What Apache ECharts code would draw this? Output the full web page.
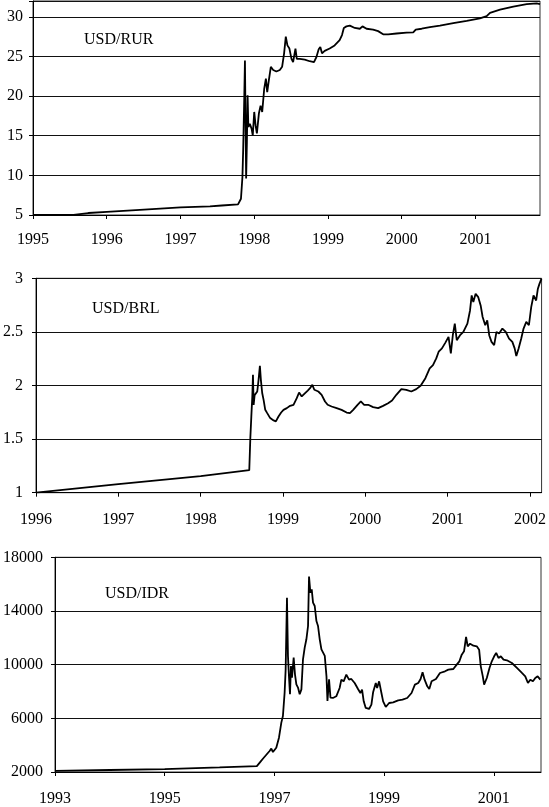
<!DOCTYPE html>
<html>
<head>
<meta charset="utf-8">
<script src="https://cdn.jsdelivr.net/npm/echarts@6/dist/echarts.min.js"></script>
<style>
  html, body { margin: 0; padding: 0; background: #fff; }
  #chart { width: 549px; height: 807px; }
</style>
</head>
<body>
<div id="chart"></div>
<script>
// USD/RUR (decimal years, rate)
let rurYears = [
    1995.00, 1995.55, 1995.75, 1996.00, 1996.45, 1997.00, 1997.40, 1997.56, 1997.78, 1997.82,
    1997.84, 1997.85, 1997.865, 1997.874, 1997.883, 1997.89, 1997.90, 1997.91, 1997.92, 1997.94,
    1997.964, 1997.98, 1998.00, 1998.018, 1998.036, 1998.063, 1998.086, 1998.108, 1998.135, 1998.158,
    1998.176, 1998.198, 1998.225, 1998.257, 1998.30, 1998.347, 1998.378, 1998.405, 1998.428, 1998.45,
    1998.477, 1998.505, 1998.527, 1998.559, 1998.577, 1998.617, 1998.685, 1998.752, 1998.81, 1998.842,
    1998.874, 1998.896, 1998.919, 1998.955, 1999.023, 1999.09, 1999.158, 1999.19, 1999.215, 1999.25,
    1999.296, 1999.364, 1999.432, 1999.468, 1999.523, 1999.612, 1999.68, 1999.748, 1999.816, 1999.93,
    2000.066, 2000.156, 2000.19, 2000.27, 2000.382, 2000.518, 2000.699, 2000.881, 2001.06, 2001.152,
    2001.197, 2001.333, 2001.513, 2001.695, 2001.83, 2001.875
];
let rurRates = [
    5.00, 5.02, 5.25, 5.40, 5.65, 5.95, 6.10, 6.20, 6.34, 7.05,
    9.8, 13.2, 19.9, 24.5, 16.1, 9.6, 14.0, 20.1, 16.1, 16.5,
    15.9, 15.05, 18.0, 16.3, 15.3, 17.8, 18.8, 18.0, 20.9, 22.2,
    20.5, 22.0, 23.7, 23.3, 23.1, 23.3, 23.7, 25.4, 27.5, 26.4,
    26.0, 24.7, 24.3, 26.0, 24.7, 24.7, 24.6, 24.4, 24.3, 24.9,
    25.9, 26.2, 25.4, 25.7, 26.0, 26.4, 27.05, 27.7, 28.6, 28.8,
    28.9, 28.6, 28.5, 28.8, 28.5, 28.4, 28.2, 27.8, 27.8, 27.9,
    28.0, 28.05, 28.4, 28.5, 28.7, 28.9, 29.2, 29.5, 29.8, 30.1,
    30.5, 30.9, 31.3, 31.6, 31.7, 31.6
];

// USD/BRL
let brlYears = [
    1996.00, 1997.00, 1998.00, 1998.59, 1998.603, 1998.615, 1998.627, 1998.635, 1998.643, 1998.655,
    1998.67, 1998.687, 1998.703, 1998.719, 1998.731, 1998.747, 1998.764, 1998.784, 1998.808, 1998.844,
    1998.885, 1998.913, 1998.945, 1998.977, 1999.006, 1999.046, 1999.086, 1999.127, 1999.167, 1999.195,
    1999.227, 1999.268, 1999.30, 1999.328, 1999.356, 1999.38, 1999.429, 1999.469, 1999.51, 1999.542,
    1999.59, 1999.651, 1999.711, 1999.772, 1999.812, 1999.852, 1999.905, 1999.945, 1999.985, 2000.034,
    2000.094, 2000.155, 2000.215, 2000.276, 2000.324, 2000.376, 2000.437, 2000.497, 2000.558, 2000.618,
    2000.671, 2000.729, 2000.781, 2000.821, 2000.861, 2000.89, 2000.93, 2000.97, 2001.01, 2001.038,
    2001.062, 2001.086, 2001.11, 2001.15, 2001.19, 2001.239, 2001.271, 2001.291, 2001.311, 2001.339,
    2001.371, 2001.40, 2001.424, 2001.456, 2001.48, 2001.504, 2001.532, 2001.564, 2001.592, 2001.624,
    2001.664, 2001.705, 2001.745, 2001.785, 2001.813, 2001.833, 2001.861, 2001.893, 2001.921, 2001.954,
    2001.986, 2002.014, 2002.042, 2002.074, 2002.094, 2002.114, 2002.138
];
let brlRates = [
    1.00, 1.08, 1.155, 1.21, 1.51, 1.71, 1.90, 2.10, 1.82, 1.91,
    1.90, 1.944, 2.053, 2.183, 2.053, 1.93, 1.866, 1.773, 1.742, 1.696,
    1.674, 1.665, 1.711, 1.748, 1.773, 1.789, 1.81, 1.82, 1.882, 1.935,
    1.898, 1.929, 1.953, 1.975, 2.006, 1.96, 1.944, 1.913, 1.851, 1.82,
    1.804, 1.789, 1.773, 1.748, 1.742, 1.773, 1.82, 1.851, 1.82, 1.82,
    1.798, 1.789, 1.81, 1.835, 1.86, 1.913, 1.966, 1.96, 1.944, 1.966,
    1.997, 2.068, 2.16, 2.19, 2.253, 2.315, 2.346, 2.398, 2.454, 2.30,
    2.469, 2.577, 2.423, 2.469, 2.50, 2.577, 2.70, 2.84, 2.778, 2.855,
    2.824, 2.747, 2.639, 2.562, 2.608, 2.469, 2.407, 2.377, 2.50, 2.485,
    2.531, 2.50, 2.438, 2.407, 2.346, 2.275, 2.346, 2.438, 2.531, 2.593,
    2.562, 2.731, 2.84, 2.793, 2.90, 2.948, 2.994
];

// USD/IDR
let idrYears = [
    1993.00, 1994.00, 1995.00, 1996.00, 1996.68, 1996.74, 1996.79, 1996.821, 1996.912, 1996.943,
    1996.973, 1997.004, 1997.034, 1997.083, 1997.126, 1997.155, 1997.186, 1997.205, 1997.229, 1997.247,
    1997.265, 1997.284, 1997.302, 1997.320, 1997.351, 1997.375, 1997.400, 1997.430, 1997.461, 1997.492,
    1997.521, 1997.552, 1997.583, 1997.613, 1997.631, 1997.656, 1997.680, 1997.704, 1997.735, 1997.766,
    1997.795, 1997.826, 1997.857, 1997.887, 1997.918, 1997.949, 1997.967, 1997.996, 1998.022, 1998.067,
    1998.128, 1998.189, 1998.22, 1998.262, 1998.311, 1998.36, 1998.402, 1998.463, 1998.524, 1998.567,
    1998.598, 1998.628, 1998.665, 1998.726, 1998.768, 1998.799, 1998.848, 1998.872, 1998.909, 1998.951,
    1998.982, 1999.03, 1999.091, 1999.165, 1999.256, 1999.335, 1999.421, 1999.5, 1999.561, 1999.622,
    1999.665, 1999.701, 1999.738, 1999.787, 1999.823, 1999.866, 1999.945, 2000.018, 2000.11, 2000.171,
    2000.262, 2000.323, 2000.372, 2000.415, 2000.457, 2000.494, 2000.524, 2000.567, 2000.628, 2000.689,
    2000.732, 2000.762, 2000.799, 2000.823, 2000.872, 2000.921, 2000.963, 2001.006, 2001.043, 2001.085,
    2001.128, 2001.177, 2001.238, 2001.329, 2001.421, 2001.512, 2001.573, 2001.622, 2001.665, 2001.713,
    2001.756, 2001.799, 2001.848
];
let idrRates = [
    2080, 2150, 2220, 2340, 2440, 2740, 2990, 2945, 3566, 3740,
    3490, 3566, 3810, 4560, 5680, 6170, 7910, 9650, 14990, 10650,
    9150, 7790, 9900, 9030, 10520, 9280, 8530, 8290, 7790, 8160,
    10400, 11270, 11890, 12880, 16560, 15360, 15610, 14620, 14370, 13250,
    12880, 11890, 11140, 11270, 10650, 9150, 7290, 8910, 7540, 7516,
    7640, 8261, 8882, 8758, 9255, 8882, 8932, 8634, 8187, 7889,
    8137, 7268, 6771, 6696, 7019, 7938, 8634, 8261, 8758, 7889,
    7268, 6845, 7143, 7193, 7342, 7392, 7516, 7889, 8510, 8634,
    8932, 9429, 8882, 8385, 8187, 8758, 8932, 9379, 9503, 9627,
    9677, 10000, 10248, 10745, 10994, 12062, 11366, 11565, 11416, 11366,
    11118, 9876, 9131, 8510, 9006, 9752, 10248, 10621, 10869, 10497,
    10621, 10373, 10323, 10124, 9752, 9379, 9131, 8634, 8882, 8758,
    9006, 9131, 8882
];

let serif = 'Liberation Serif';
let ink = '#000';

let zip = function(xs, ys) {
    return xs.map(function(x, i) { return [x, ys[i]]; });
};

let makeX = function(idx, min, max, interval, margin) {
    return {
        type: 'value', gridIndex: idx, min: min, max: max, interval: interval,
        axisLine: { show: true, lineStyle: { color: ink, width: 1 } },
        axisTick: { show: true, length: 4, lineStyle: { color: ink } },
        splitLine: { show: false },
        axisLabel: {
            margin: margin, color: ink, fontFamily: serif, fontSize: 16,
            showMaxLabel: false,
            formatter: function(v) {
                return (Math.abs(v - Math.round(v)) < 1e-6) ? String(Math.round(v)) : '';
            }
        }
    };
};

let makeY = function(idx, min, max, interval, margin, step) {
    return {
        type: 'value', gridIndex: idx, min: min, max: max, interval: interval,
        axisLine: { show: true, lineStyle: { color: ink, width: 1 } },
        axisTick: { show: true, length: 4, lineStyle: { color: ink } },
        splitLine: { show: true, lineStyle: { color: '#111', width: 1 } },
        axisLabel: {
            margin: margin, color: ink, fontFamily: serif, fontSize: 16,
            formatter: function(v) {
                let k = (v - min) / step;
                return (Math.abs(k - Math.round(k)) < 1e-6) ? String(v) : '';
            }
        }
    };
};

let makeLine = function(idx, data) {
    return {
        type: 'line', xAxisIndex: idx, yAxisIndex: idx,
        data: data, showSymbol: false, symbol: 'none',
        lineStyle: { color: '#000', width: 1.8 },
        animation: false
    };
};

let titleStyle = { color: ink, fontFamily: serif, fontSize: 16, fontWeight: 'normal' };

let myChart = echarts.init(document.getElementById('chart'), null, { renderer: 'canvas' });

myChart.setOption({
    backgroundColor: '#fff',
    animation: false,
    title: [
        { text: 'USD/RUR', left: 84, top: 32, padding: 0, textStyle: titleStyle },
        { text: 'USD/BRL', left: 92, top: 301, padding: 0, textStyle: titleStyle },
        { text: 'USD/IDR', left: 105, top: 586, padding: 0, textStyle: titleStyle }
    ],
    grid: [
        { left: 33, top: 1, width: 507, height: 214, show: true, borderColor: '#333', borderWidth: 1 },
        { left: 33.5, top: 278.3, width: 508.5, height: 214.4, show: true, borderColor: '#333', borderWidth: 1 },
        { left: 54.5, top: 557.3, width: 486.5, height: 215.5, show: true, borderColor: '#333', borderWidth: 1 }
    ],
    xAxis: [
        makeX(0, 1995, 2001.875, 1, 17),
        makeX(1, 1996, 2002.14, 1, 19),
        makeX(2, 1993, 2001.86, 2, 19)
    ],
    yAxis: [
        makeY(0, 5, 32, 5, 10, 5),
        makeY(1, 1, 3, 0.5, 13, 0.5),
        makeY(2, 2000, 18000, 4000, 12, 4000)
    ],
    series: [
        makeLine(0, zip(rurYears, rurRates)),
        makeLine(1, zip(brlYears, brlRates)),
        makeLine(2, zip(idrYears, idrRates))
    ]
});

window.onresize = function() {
    myChart.resize();
};
</script>
</body>
</html>
